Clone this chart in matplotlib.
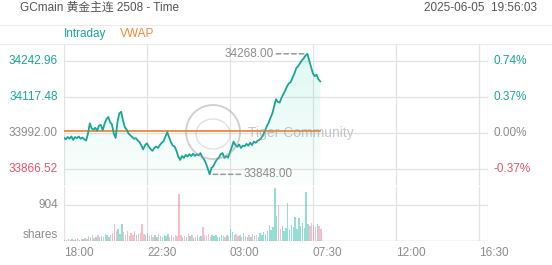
import numpy as np
import matplotlib
matplotlib.use("Agg")
import matplotlib.pyplot as plt
from matplotlib.patches import Polygon, Ellipse

plt.rcParams['font.family'] = ['Liberation Sans', 'Noto Sans CJK SC', 'DejaVu Sans']

# intraday data, one point every 6 minutes from 18:00
step_min = 6
price = [
    33975, 33970, 33978, 33972, 33980, 33968, 33978, 33974, 33980, 33972,
    33976, 33970, 33966, 33990, 34026, 34008, 34004, 34010, 34000, 34018,
    34020, 34002, 34024, 34040, 34048, 34030, 34022, 33990, 33975, 34030,
    34060, 34066, 34036, 34012, 34004, 33990, 33984, 33978, 33972, 33974,
    33966, 33960, 33948, 33935, 33950, 33956, 33944, 33936, 33930, 33940,
    33945, 33940, 33950, 33958, 33964, 33980, 33995, 33978, 33960, 33948,
    33945, 33930, 33910, 33898, 33912, 33905, 33916, 33910, 33918, 33912,
    33920, 33912, 33918, 33914, 33922, 33908, 33900, 33886, 33868, 33848,
    33870, 33876, 33890, 33900, 33906, 33918, 33922, 33905, 33912, 33906,
    33925, 33942, 33962, 33950, 33944, 33952, 33940, 33948, 33946, 33954,
    33948, 33958, 33950, 33962, 33958, 33965, 33968, 33975, 33985, 34000,
    34015, 34028, 34045, 34060, 34085, 34110, 34100, 34098, 34115, 34128,
    34140, 34155, 34165, 34170, 34185, 34200, 34218, 34225, 34235, 34245,
    34252, 34262, 34268, 34245, 34222, 34200, 34190, 34195, 34180, 34172,
]
volume = [
    30, 20, 45, 25, 60, 35, 40, 70, 30, 55, 45, 80, 60,
    120, 90, 150, 70, 110, 160, 90, 130, 100, 180, 140, 110, 150,
    200, 430, 250, 300, 180, 430, 220,
    160, 240, 130, 200, 150, 260, 140, 180, 210, 430, 170, 140, 190,
    120, 160, 90, 140, 110, 170, 130, 100, 150, 120, 180, 90, 140, 110, 160, 130, 1180,
    150, 100, 130, 90, 170, 120, 140, 80, 110, 160, 100, 130, 350,
    140, 120, 180, 100, 150, 130, 160, 110, 90, 140, 120, 100, 150, 130, 300,
    220, 160, 180, 120, 150, 100, 200, 130, 90, 140, 110, 170, 120, 150, 100, 190, 160, 220, 180, 260,
    400, 280, 350, 1330, 620, 900, 300, 380, 260, 330, 950, 280, 400, 350, 600,
    300, 580, 380, 450, 320, 1230, 420, 380, 450, 400, 350, 420, 380, 300,
]
vwap_min = [0, 270, 540, 834]
vwap = [34000, 34000, 34000, 34000]
price_ticks = [34242.96, 34117.48, 33992.00, 33866.52]
pct_labels = ["0.74%", "0.37%", "0.00%", "-0.37%"]
vol_tick = 904
time_ticks = [0, 270, 540, 810, 1080, 1350]
time_labels = ["18:00", "22:30", "03:00", "07:30", "12:00", "16:30"]

W, H = 552, 265
TEAL = '#17a697'
RED = '#e9546b'
GRAY = '#8c8c8c'
GRID = '#e3e3e3'
ORANGE = '#f0883a'

t = np.arange(len(price)) * step_min
p = np.array(price, dtype=float)

fig = plt.figure(figsize=(W / 100, H / 100), dpi=100)


def fx(x):
    return x / W


def fy(y):
    return 1 - y / H


L, R = 64, 488
ax = fig.add_axes([fx(L), fy(186), fx(R - L), fy(44) - fy(186)])
axv = fig.add_axes([fx(L), fy(241), fx(R - L), fy(187) - fy(241)])

ylo, yhi = 33807.3, 34302.2
for a in (ax, axv):
    a.set_xlim(0, 1380)
    for s in a.spines.values():
        s.set_visible(False)
    a.tick_params(length=0)
    for xt in time_ticks:
        a.axvline(xt, color=GRID, lw=0.9, zorder=0)
    a.axvline(1380, color=GRID, lw=0.9, zorder=0)

# price panel
ax.set_ylim(ylo, yhi)
for yt in price_ticks:
    ax.axhline(yt, color=GRID, lw=0.9, zorder=0)
ax.set_xticks([])
ax.set_yticks([])

grad = np.zeros((256, 1, 4))
grad[:, 0, :3] = matplotlib.colors.to_rgb('#3dd6ad')
grad[:, 0, 3] = np.linspace(0.16, 0.02, 256)
im = ax.imshow(grad, extent=[0, t[-1], ylo, p.max()], aspect='auto',
               origin='upper', zorder=1)
verts = np.vstack([np.column_stack([t, p]), [[t[-1], ylo], [0, ylo]]])
clip = Polygon(verts, closed=True, facecolor='none', edgecolor='none',
               transform=ax.transData)
ax.add_patch(clip)
im.set_clip_path(clip)

ax.plot(vwap_min, vwap, color=ORANGE, lw=1.3, zorder=3)
ax.plot(t, p, color=TEAL, lw=1.3, zorder=4)

lab_cols = [TEAL, TEAL, GRAY, RED]
for yt, pl, c in zip(price_ticks, pct_labels, lab_cols):
    yy = ax.transData.transform((0, yt))[1] / fig.dpi / fig.get_figheight()
    fig.text(fx(58), yy, f"{yt:.2f}", ha='right', va='center', fontsize=8.5, color=c)
    fig.text(fx(494), yy, pl, ha='left', va='center', fontsize=8.5, color=c)

# high / low markers
imax, imin = int(np.argmax(p)), int(np.argmin(p))
for i, sgn, ha in ((imax, -1, 'right'), (imin, 1, 'left')):
    ax.annotate('', xy=(t[i], p[i]), xytext=(sgn * 31, 0), textcoords='offset pixels',
                arrowprops=dict(arrowstyle='-', color='#999999', lw=1.1,
                                linestyle=(0, (3, 2)), shrinkA=0, shrinkB=1))
    ax.annotate(f"{p[i]:.2f}", xy=(t[i], p[i]), xytext=(sgn * 34, 0),
                textcoords='offset pixels', ha=ha, va='center',
                fontsize=8.5, color=GRAY)

# volume panel
axv.set_ylim(0, 1356)
axv.axhline(vol_tick, color=GRID, lw=0.9, zorder=0)
axv.axhline(0, color='#d0d0d0', lw=1.0, zorder=0)
up = np.r_[True, np.diff(p) >= 0]
cols = np.where(up, '#3cc4b4', '#f0899c')
axv.bar(t, volume, width=4.5, color=cols, alpha=0.55, align='edge', zorder=2)
axv.set_yticks([])
axv.set_xticks(time_ticks)
axv.set_xticklabels(time_labels, fontsize=8.5, color=GRAY, ha='left')
axv.tick_params(axis='x', pad=4)
yv = axv.transData.transform((0, vol_tick))[1] / fig.dpi / fig.get_figheight()
fig.text(fx(58), yv, str(vol_tick), ha='right', va='center', fontsize=8.5, color=GRAY)
fig.text(fx(58), fy(235), "shares", ha='right', va='center', fontsize=8.5, color=GRAY)

# header
fig.text(fx(20), fy(8), "GCmain 黄金主连 2508 - Time", ha='left', va='center',
         fontsize=8.5, color='#555555')
fig.text(fx(537), fy(8), "2025-06-05  19:56:03", ha='right', va='center',
         fontsize=8.5, color='#555555')
fig.text(fx(64), fy(34), "Intraday", ha='left', va='center', fontsize=8.5, color=TEAL)
fig.text(fx(120), fy(34), "VWAP", ha='left', va='center', fontsize=8.5, color=ORANGE)
for yl in (25, 44):
    fig.add_artist(plt.Line2D([0, 1], [fy(yl), fy(yl)], color='#ececec', lw=0.8))

# watermark
fig.add_artist(Ellipse((fx(213), fy(132)), 54 / W, 54 / H, transform=fig.transFigure,
                       fill=False, edgecolor='#9a9a9a', lw=1.4, alpha=0.45,
                       zorder=5))
fig.add_artist(Ellipse((fx(213), fy(134)), 34 / W, 30 / H, transform=fig.transFigure,
                       fill=False, edgecolor='#9a9a9a', lw=1.0, alpha=0.3,
                       zorder=5))
fig.text(fx(248), fy(133), "Tiger Community", ha='left', va='center',
         fontsize=10, color='#9a9a9a', alpha=0.55, zorder=5)

fig.savefig("out.png", dpi=100)
